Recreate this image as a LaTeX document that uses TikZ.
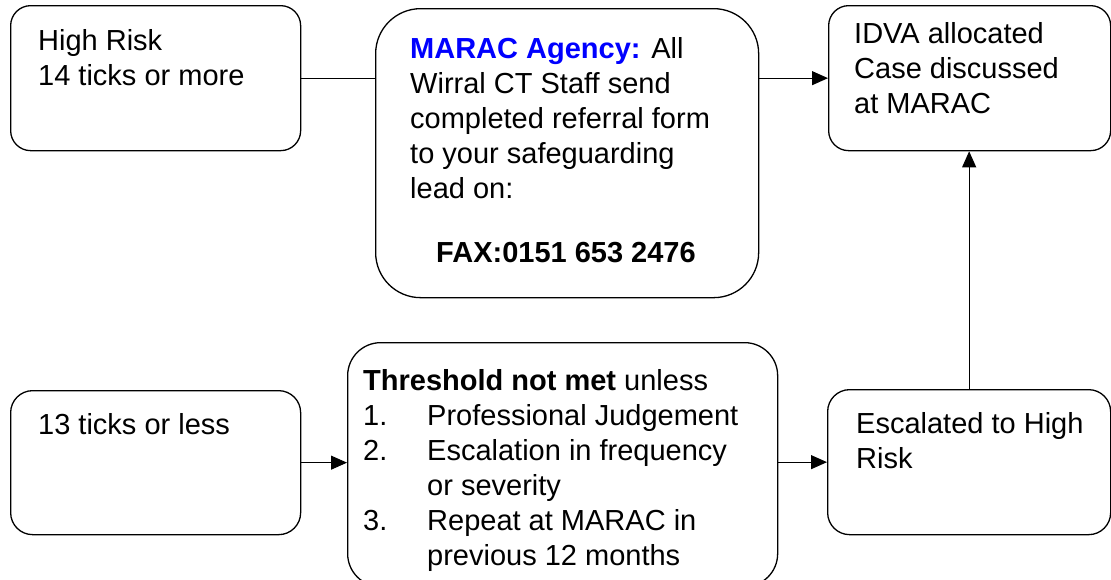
\documentclass[tikz,border=0pt]{standalone}
\usepackage{fontspec}
\setmainfont{Liberation Sans}
\usetikzlibrary{arrows.meta}
\begin{document}
\begin{tikzpicture}[x=1pt,y=-1pt,
  box/.style={draw, line width=1.3pt, rounded corners=#1, inner sep=0pt, anchor=north west},
  box/.default=20pt,
  txt/.style={anchor=base west, inner sep=0pt, align=left, font=\fontsize{29}{35}\selectfont},
  link/.style={line width=1pt},
  arr/.style={link, -{Triangle[length=16pt,width=14pt]}}]
\useasboundingbox (0,0) rectangle (1111,579);
\clip (0,0) rectangle (1111,579);
% boxes
\node[box=20pt, minimum width=290pt, minimum height=145pt] (b1) at (10,5) {};
\node[box=45pt, minimum width=383pt, minimum height=289pt] (b2) at (375,8) {};
\node[box=20pt, minimum width=282pt, minimum height=145pt] (b3) at (828,5) {};
\node[box=22pt, minimum width=290pt, minimum height=144pt] (b4) at (10,390) {};
\node[box=33pt, minimum width=430pt, minimum height=244pt] (b5) at (347,342) {};
\node[box=22pt, minimum width=283pt, minimum height=145pt] (b6) at (827,389) {};
% texts (anchor = baseline of the last line)
\node[txt] (t1) at (38,85) {High Risk\\14 ticks or more};
\node[txt] (t2) at (410,198) {\textcolor{blue}{\textbf{MARAC Agency:}} All\\Wirral CT Staff send\\completed referral form\\to your safeguarding\\lead on:};
\node[txt, anchor=base] (t2f) at (566,262) {\textbf{FAX:0151 653 2476}};
\node[txt] (t3) at (854,113) {IDVA allocated\\Case discussed\\at MARAC};
\node[txt] (t4) at (38,434) {13 ticks or less};
\node[txt] (t5) at (363,390) {\textbf{Threshold not met} unless};
\node[txt] (n1) at (363,425) {1.};
\node[txt] (n2) at (363,460) {2.};
\node[txt] (n3) at (363,530) {3.};
\node[txt] (t5l) at (427,565) {Professional Judgement\\Escalation in frequency\\or severity\\Repeat at MARAC in\\previous 12 months};
\node[txt] (t6) at (856,468) {Escalated to High\\Risk};
% connectors
\draw[link] (b1.east) -- (b1.east -| b2.west);
\draw[arr] (b3.west -| b2.east) -- (b3.west);
\draw[arr] (b4.east) -- (b4.east -| b5.west);
\draw[arr] (b6.west -| b5.east) -- (b6.west);
\draw[arr] (b6.north) -- (b6.north |- b3.south);
\end{tikzpicture}
\end{document}
